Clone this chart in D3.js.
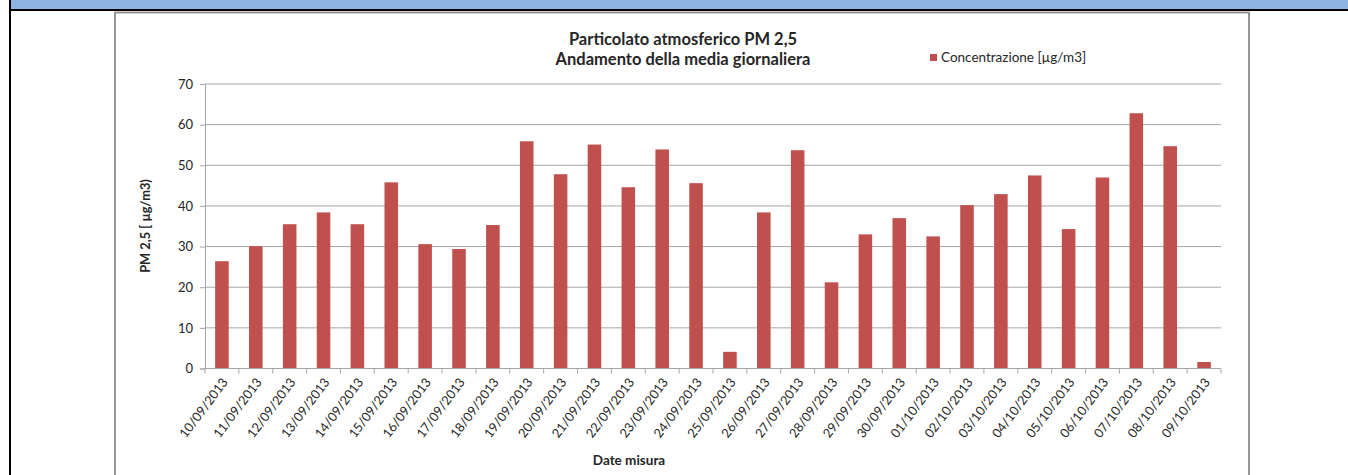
<!DOCTYPE html>
<html>
<head>
<meta charset="utf-8">
<script src="https://cdn.jsdelivr.net/npm/d3@7"></script>
<style>
  body { margin: 0; background: #fff; }
  text { font-family: Lato, "Open Sans", sans-serif; fill: #262626; }
</style>
</head>
<body>
<div id="chart"></div>
<script>
// data
let dates = ["10/09/2013", "11/09/2013", "12/09/2013", "13/09/2013", "14/09/2013",
  "15/09/2013", "16/09/2013", "17/09/2013", "18/09/2013", "19/09/2013",
  "20/09/2013", "21/09/2013", "22/09/2013", "23/09/2013", "24/09/2013",
  "25/09/2013", "26/09/2013", "27/09/2013", "28/09/2013", "29/09/2013",
  "30/09/2013", "01/10/2013", "02/10/2013", "03/10/2013", "04/10/2013",
  "05/10/2013", "06/10/2013", "07/10/2013", "08/10/2013", "09/10/2013"];
let pm25 = [26.4, 30.1, 35.5, 38.4, 35.5, 45.8, 30.6, 29.4, 35.3, 55.9,
  47.8, 55.1, 44.6, 53.9, 45.6, 4.1, 38.4, 53.7, 21.2, 33.0,
  37.0, 32.5, 40.2, 42.9, 47.5, 34.3, 47.0, 62.8, 54.7, 1.6];
let yTicks = [0, 10, 20, 30, 40, 50, 60, 70];
let titleLines = ["Particolato  atmosferico PM 2,5", "Andamento della media giornaliera"];
let legendLabel = "Concentrazione [µg/m3]";
let yTitle = "PM 2,5 [ µg/m3)";
let xTitle = "Date misura";

let width = 1348, height = 475;
let barColor = "#c0504d";
let gridColor = "#a6a6a6";

let svg = d3.select("#chart")
  .append("svg")
  .attr("width", width)
  .attr("height", height);

// page frame: blue header band and black table borders
svg.append("rect")
  .attr("x", 11).attr("y", 0).attr("width", width - 11).attr("height", 9)
  .attr("fill", "#8db3e2");
svg.append("line")
  .attr("x1", 9).attr("x2", width).attr("y1", 10).attr("y2", 10)
  .attr("stroke", "#000").attr("stroke-width", 2);
svg.append("line")
  .attr("x1", 10).attr("x2", 10).attr("y1", 0).attr("y2", height)
  .attr("stroke", "#000").attr("stroke-width", 2);

// chart box
svg.append("rect")
  .attr("x", 115).attr("y", 12.5).attr("width", 1134).attr("height", 480)
  .attr("fill", "#fff").attr("stroke", "#8c8c8c").attr("stroke-width", 1.8);

// scales
let xScale = d3.scaleBand()
  .domain(dates)
  .range([205, 1221])
  .paddingInner(0.6)
  .paddingOuter(0.3);
let yScale = d3.scaleLinear()
  .domain([0, 70])
  .range([368.5, 84]);

// gridlines
svg.append("g")
  .selectAll("line")
  .data(yTicks.filter(d => d > 0))
  .enter()
  .append("line")
  .attr("x1", 205).attr("x2", 1221)
  .attr("y1", d => yScale(d)).attr("y2", d => yScale(d))
  .attr("stroke", gridColor).attr("stroke-width", 1);

// y axis
let yAxis = d3.axisLeft(yScale)
  .tickValues(yTicks)
  .tickSize(5)
  .tickPadding(7);
let yg = svg.append("g")
  .attr("transform", "translate(205,0)")
  .call(yAxis);
yg.select(".domain").attr("stroke", gridColor);
yg.selectAll(".tick line").attr("stroke", gridColor);
yg.selectAll("text").style("font-size", "13px").attr("fill", "#262626");

// bars
svg.append("g")
  .selectAll("rect")
  .data(pm25)
  .enter()
  .append("rect")
  .attr("x", (d, i) => xScale(dates[i]))
  .attr("y", d => yScale(d))
  .attr("width", xScale.bandwidth())
  .attr("height", d => yScale(0) - yScale(d))
  .attr("fill", barColor);

// x axis line with ticks on category boundaries
let step = xScale.step();
let bounds = dates.map(d => xScale(d) - (step - xScale.bandwidth()) / 2);
bounds.push(xScale.range()[1]);
let xg = svg.append("g");
xg.append("line")
  .attr("x1", 205).attr("x2", 1221)
  .attr("y1", yScale(0)).attr("y2", yScale(0))
  .attr("stroke", gridColor);
xg.selectAll(".bt")
  .data(bounds)
  .enter()
  .append("line")
  .attr("class", "bt")
  .attr("x1", d => d).attr("x2", d => d)
  .attr("y1", yScale(0)).attr("y2", yScale(0) + 5)
  .attr("stroke", gridColor);

// rotated date labels
xg.selectAll("text")
  .data(dates)
  .enter()
  .append("text")
  .attr("transform", d => `translate(${xScale(d) + xScale.bandwidth() / 2 + 3},${yScale(0) + 11}) rotate(-53)`)
  .attr("text-anchor", "end")
  .attr("dy", "0.35em")
  .style("font-size", "12.8px")
  .text(d => d);

// title
svg.append("g")
  .selectAll("text")
  .data(titleLines)
  .enter()
  .append("text")
  .attr("x", 683)
  .attr("y", (d, i) => 45 + i * 20)
  .attr("text-anchor", "middle")
  .style("font-size", "16.5px")
  .style("font-weight", "bold")
  .text(d => d);

// legend
svg.append("rect")
  .attr("x", 930).attr("y", 54).attr("width", 7).attr("height", 7)
  .attr("fill", barColor);
svg.append("text")
  .attr("x", 941).attr("y", 62)
  .style("font-size", "13.5px")
  .text(legendLabel);

// axis titles
svg.append("text")
  .attr("transform", "translate(150,226) rotate(-90)")
  .attr("text-anchor", "middle")
  .style("font-size", "12.8px")
  .style("font-weight", "bold")
  .text(yTitle);
svg.append("text")
  .attr("x", 629).attr("y", 465)
  .attr("text-anchor", "middle")
  .style("font-size", "13.5px")
  .style("font-weight", "bold")
  .text(xTitle);
</script>
</body>
</html>
